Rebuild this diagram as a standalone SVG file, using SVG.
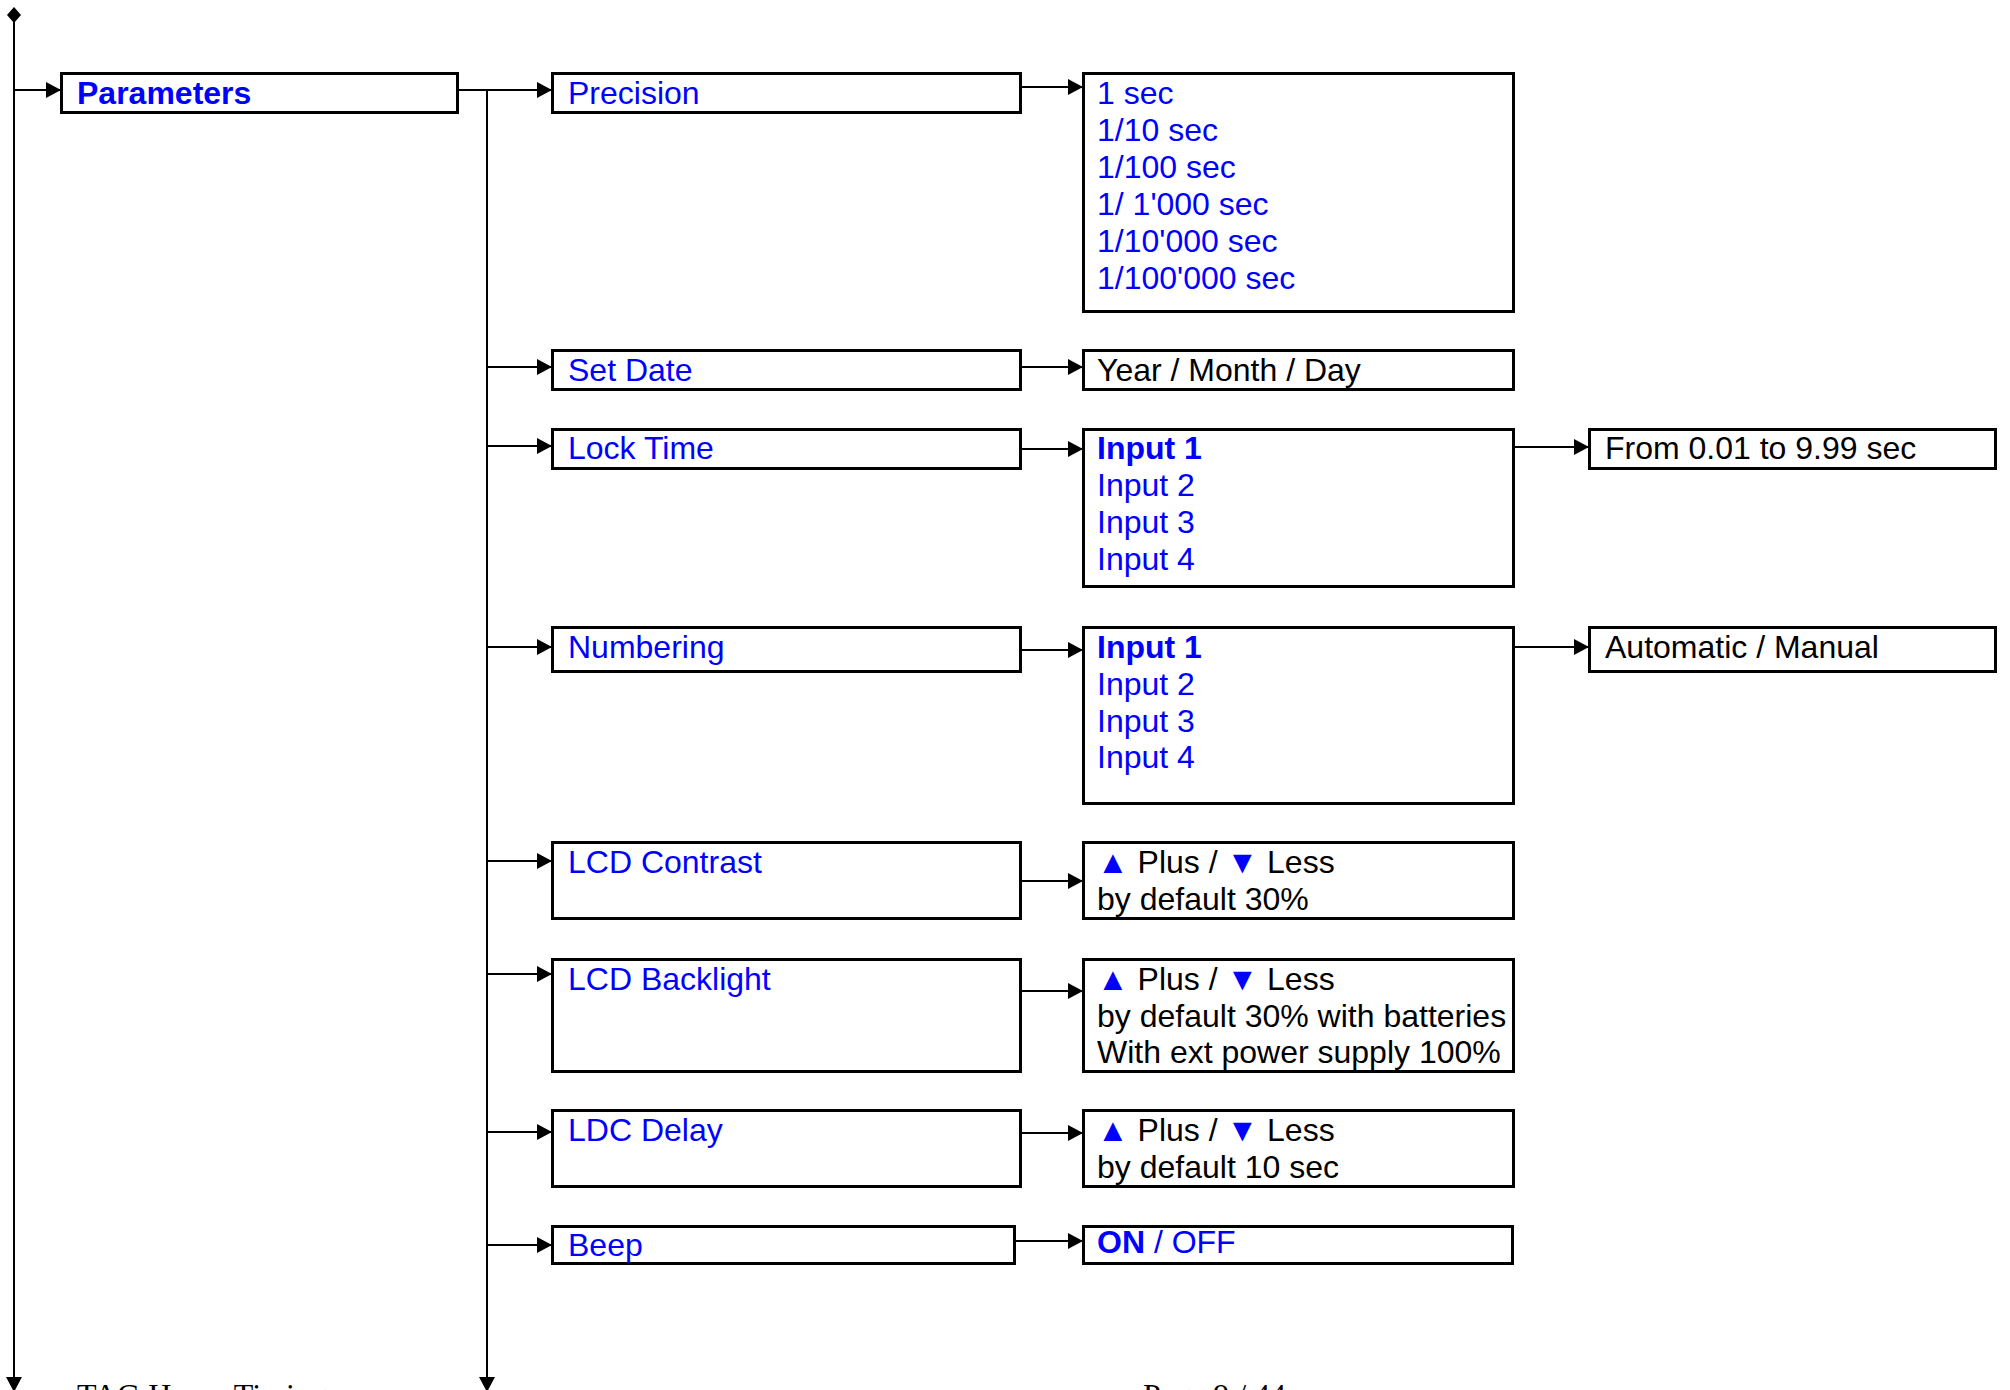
<svg xmlns="http://www.w3.org/2000/svg" width="2010" height="1390" viewBox="0 0 2010 1390">
<style>
.box{fill:#fff;stroke:#000;stroke-width:3}
.ln{fill:none;stroke:#000;stroke-width:2}
.t{font-family:"Liberation Sans",Arial,sans-serif;font-size:32px;fill:#0000ff}
.k{font-family:"Liberation Sans",Arial,sans-serif;font-size:32px;fill:#000}
.b{font-weight:bold}
.bl{fill:#0000ff}
.ft{font-family:"Liberation Serif","Times New Roman",serif;font-size:32px;fill:#000}
</style>
<defs>
<marker id="ah" markerUnits="userSpaceOnUse" markerWidth="15" markerHeight="16" refX="15" refY="8" orient="auto">
<path d="M0,0 L15,8 L0,16 Z" fill="#000"/>
</marker>
</defs>
<rect width="2010" height="1390" fill="#fff"/>
<g id="connectors">
<path d="M7,15 L14,7 L21,15 L14,23 Z" fill="#000"/>
<line class="ln" x1="14" y1="15" x2="14" y2="1392" marker-end="url(#ah)"/>
<line class="ln" x1="14" y1="90" x2="61" y2="90" marker-end="url(#ah)"/>
<line class="ln" x1="458" y1="90" x2="552" y2="90" marker-end="url(#ah)"/>
<line class="ln" x1="487" y1="90" x2="487" y2="1392" marker-end="url(#ah)"/>
<line class="ln" x1="487" y1="367" x2="552" y2="367" marker-end="url(#ah)"/>
<line class="ln" x1="487" y1="446" x2="552" y2="446" marker-end="url(#ah)"/>
<line class="ln" x1="487" y1="647" x2="552" y2="647" marker-end="url(#ah)"/>
<line class="ln" x1="487" y1="861" x2="552" y2="861" marker-end="url(#ah)"/>
<line class="ln" x1="487" y1="974" x2="552" y2="974" marker-end="url(#ah)"/>
<line class="ln" x1="487" y1="1132" x2="552" y2="1132" marker-end="url(#ah)"/>
<line class="ln" x1="487" y1="1245" x2="552" y2="1245" marker-end="url(#ah)"/>
<line class="ln" x1="1021" y1="87" x2="1083" y2="87" marker-end="url(#ah)"/>
<line class="ln" x1="1021" y1="367" x2="1083" y2="367" marker-end="url(#ah)"/>
<line class="ln" x1="1021" y1="449" x2="1083" y2="449" marker-end="url(#ah)"/>
<line class="ln" x1="1021" y1="650" x2="1083" y2="650" marker-end="url(#ah)"/>
<line class="ln" x1="1021" y1="881" x2="1083" y2="881" marker-end="url(#ah)"/>
<line class="ln" x1="1019" y1="991" x2="1083" y2="991" marker-end="url(#ah)"/>
<line class="ln" x1="1021" y1="1133" x2="1083" y2="1133" marker-end="url(#ah)"/>
<line class="ln" x1="1015" y1="1241" x2="1083" y2="1241" marker-end="url(#ah)"/>
<line class="ln" x1="1514" y1="447" x2="1589" y2="447" marker-end="url(#ah)"/>
<line class="ln" x1="1514" y1="647" x2="1589" y2="647" marker-end="url(#ah)"/>
</g>
<g id="parameters"><rect class="box" x="61.5" y="73.5" width="396" height="39"/><text class="t b" x="77" y="104">Parameters</text></g>
<g id="precision"><rect class="box" x="552.5" y="73.5" width="468" height="39"/><text class="t" x="568" y="104">Precision</text></g>
<g id="precision-values"><rect class="box" x="1083.5" y="73.5" width="430" height="238"/>
<text class="t" x="1097" y="104">1 sec</text>
<text class="t" x="1097" y="141">1/10 sec</text>
<text class="t" x="1097" y="178">1/100 sec</text>
<text class="t" x="1097" y="215">1/ 1'000 sec</text>
<text class="t" x="1097" y="252">1/10'000 sec</text>
<text class="t" x="1097" y="289">1/100'000 sec</text></g>
<g id="set-date"><rect class="box" x="552.5" y="350.5" width="468" height="39"/><text class="t" x="568" y="381">Set Date</text></g>
<g id="date-value"><rect class="box" x="1083.5" y="350.5" width="430" height="39"/><text class="k" x="1097" y="381">Year / Month / Day</text></g>
<g id="lock-time"><rect class="box" x="552.5" y="429.5" width="468" height="39"/><text class="t" x="568" y="459">Lock Time</text></g>
<g id="lock-inputs"><rect class="box" x="1083.5" y="429.5" width="430" height="157"/>
<text class="t b" x="1097" y="459">Input 1</text>
<text class="t" x="1097" y="496">Input 2</text>
<text class="t" x="1097" y="533">Input 3</text>
<text class="t" x="1097" y="570">Input 4</text></g>
<g id="lock-range"><rect class="box" x="1589.5" y="429.5" width="406" height="39"/><text class="k" x="1605" y="459">From 0.01 to 9.99 sec</text></g>
<g id="numbering"><rect class="box" x="552.5" y="627.5" width="468" height="44"/><text class="t" x="568" y="658">Numbering</text></g>
<g id="numbering-inputs"><rect class="box" x="1083.5" y="627.5" width="430" height="176"/>
<text class="t b" x="1097" y="658">Input 1</text>
<text class="t" x="1097" y="695">Input 2</text>
<text class="t" x="1097" y="732">Input 3</text>
<text class="t" x="1097" y="768">Input 4</text></g>
<g id="numbering-mode"><rect class="box" x="1589.5" y="627.5" width="406" height="44"/><text class="k" x="1605" y="658">Automatic / Manual</text></g>
<g id="lcd-contrast"><rect class="box" x="552.5" y="842.5" width="468" height="76"/><text class="t" x="568" y="873">LCD Contrast</text></g>
<g id="contrast-value"><rect class="box" x="1083.5" y="842.5" width="430" height="76"/>
<text class="k" x="1097" y="873"><tspan class="bl">▲</tspan> Plus / <tspan class="bl">▼</tspan> Less</text>
<text class="k" x="1097" y="910">by default 30%</text></g>
<g id="lcd-backlight"><rect class="box" x="552.5" y="959.5" width="468" height="112"/><text class="t" x="568" y="990">LCD Backlight</text></g>
<g id="backlight-value"><rect class="box" x="1083.5" y="959.5" width="430" height="112"/>
<text class="k" x="1097" y="990"><tspan class="bl">▲</tspan> Plus / <tspan class="bl">▼</tspan> Less</text>
<text class="k" x="1097" y="1027">by default 30% with batteries</text>
<text class="k" x="1097" y="1063">With ext power supply 100%</text></g>
<g id="ldc-delay"><rect class="box" x="552.5" y="1110.5" width="468" height="76"/><text class="t" x="568" y="1141">LDC Delay</text></g>
<g id="delay-value"><rect class="box" x="1083.5" y="1110.5" width="430" height="76"/>
<text class="k" x="1097" y="1141"><tspan class="bl">▲</tspan> Plus / <tspan class="bl">▼</tspan> Less</text>
<text class="k" x="1097" y="1178">by default 10 sec</text></g>
<g id="beep"><rect class="box" x="552.5" y="1226.5" width="462" height="37"/><text class="t" x="568" y="1256">Beep</text></g>
<g id="beep-value"><rect class="box" x="1083.5" y="1226.5" width="429" height="37"/><text class="t" x="1097" y="1253"><tspan class="b">ON</tspan> / OFF</text></g>
<g id="footer">
<text class="ft" x="77" y="1406">TAG Heuer Timing</text>
<text class="ft" x="1143" y="1406">Page 9 / 44</text>
</g>
</svg>
